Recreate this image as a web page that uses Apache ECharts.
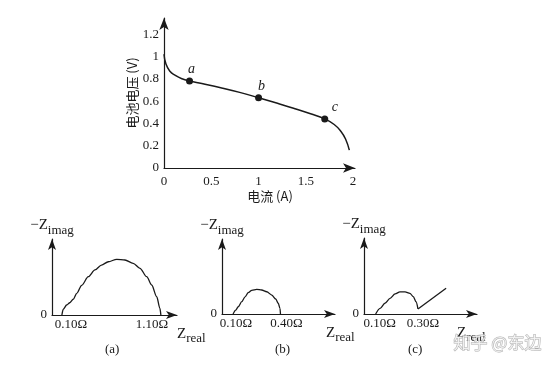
<!DOCTYPE html>
<html><head><meta charset="utf-8">
<script src="https://cdn.jsdelivr.net/npm/echarts@6/dist/echarts.min.js"></script>
<style>html,body{margin:0;padding:0;background:#fff}#c{width:554px;height:366px}</style>
</head><body><div id="c"></div>
<script>
// ---- Data: polarization curve ----
const currentA = [0, 0.02, 0.06, 0.12, 0.19, 0.27, 0.4, 0.6, 0.8, 1.0, 1.2, 1.37, 1.55, 1.7, 1.80, 1.87, 1.92, 1.96];
const voltageV = [1.02, 0.935, 0.87, 0.83, 0.80, 0.78, 0.757, 0.72, 0.678, 0.63, 0.58, 0.536, 0.486, 0.44, 0.39, 0.33, 0.26, 0.16];
const markX = [0.27, 1.0, 1.7];
const markY = [0.78, 0.63, 0.44];
const markNames = ['a', 'b', 'c'];
const topXTicks = [0, 0.5, 1, 1.5, 2];
const topYTicks = [0, 0.2, 0.4, 0.6, 0.8, 1, 1.2];

// ---- Data: impedance spectra (a), (b), (c) ----
const aReal = [0.10, 0.114, 0.148, 0.18, 0.215, 0.25, 0.30, 0.367, 0.434, 0.50, 0.569, 0.654, 0.737, 0.82, 0.889, 0.957, 1.007, 1.058, 1.09, 1.10];
const aImag = [0, 0.058, 0.101, 0.124, 0.159, 0.219, 0.30, 0.387, 0.455, 0.505, 0.538, 0.563, 0.556, 0.522, 0.472, 0.387, 0.303, 0.185, 0.068, 0];
const bReal = [0.10, 0.117, 0.133, 0.155, 0.176, 0.196, 0.218, 0.25, 0.281, 0.313, 0.345, 0.37, 0.386, 0.397, 0.40];
const bImag = [0, 0.025, 0.046, 0.078, 0.109, 0.135, 0.150, 0.156, 0.152, 0.141, 0.120, 0.095, 0.068, 0.036, 0];
const cArcReal = [0.10, 0.121, 0.144, 0.168, 0.192, 0.215, 0.239, 0.262, 0.278, 0.291, 0.30];
const cArcImag = [0, 0.027, 0.051, 0.074, 0.095, 0.105, 0.105, 0.098, 0.082, 0.058, 0.024];
const cTailReal = [0.30, 0.433];
const cTailImag = [0.024, 0.122];
const aTicks = [0.10, 1.10];
const bTicks = [0.10, 0.40];
const cTicks = [0.10, 0.30];
const captions = ['(a)', '(b)', '(c)'];

// ---- Styles ----
const SERIF = '"Liberation Serif","Times New Roman",serif';
const CJK = '"Noto Sans CJK SC","Noto Sans",sans-serif';
const INK = '#1a1a1a';
const zip = (xs, ys) => xs.map((x, i) => [x, ys[i]]);

const axisLine = (size) => ({
  show: true, onZero: false,
  symbol: ['none', 'arrow'], symbolSize: size, symbolOffset: [0, 0],
  lineStyle: { color: INK, width: 1.2 }
});

const zName = (main, sub, subPad) => ({
  name: '{m|' + main + '}{s|' + sub + '}',
  rich: {
    m: { fontFamily: SERIF, fontSize: 15, color: INK },
    s: { fontFamily: SERIF, fontSize: 13, color: INK, padding: [subPad, 0, 0, 0] }
  }
});

// label shifts (px) so tick text sits like in the print
const shifts = [[9, -9], [3, 6], [4, 5]];
function ohmLabel(ticks, sh) {
  return {
    show: true, customValues: ticks, margin: 3,
    formatter: (v) => {
      const i = ticks.findIndex(t => Math.abs(t - v) < 1e-9);
      return '{' + (sh[i] >= 0 ? 'l' : 'r') + (i) + '|' + v.toFixed(2) + 'Ω}';
    },
    rich: Object.fromEntries(ticks.map((t, i) => [
      (sh[i] >= 0 ? 'l' : 'r') + i,
      { fontFamily: SERIF, fontSize: 13, color: INK,
        padding: sh[i] >= 0 ? [0, 0, 0, 2 * sh[i]] : [0, -2 * sh[i], 0, 0] }
    ]))
  };
}

const grids = [
  { left: 164, top: 18, width: 191, height: 150 },
  { left: 52, top: 239, width: 125, height: 76 },
  { left: 222, top: 239, width: 113, height: 75 },
  { left: 364, top: 238, width: 113, height: 76 }
];

const xN = zName('Z', 'real', 9);
const yN = zName('−Z', 'imag', 11);

const bottomX = (idx, min, max, ticks, gap) => ({
  type: 'value', gridIndex: idx, min: min, max: max,
  axisLine: axisLine([6, 11]), axisTick: { show: false }, splitLine: { show: false },
  axisLabel: ohmLabel(ticks, shifts[idx - 1]),
  name: xN.name, nameLocation: 'end', nameGap: gap,
  nameTextStyle: { rich: xN.rich, verticalAlign: 'top', padding: [8, 0, 0, 0] }
});
const bottomY = (idx, max) => ({
  type: 'value', gridIndex: idx, min: 0, max: max,
  axisLine: axisLine([6, 11]), axisTick: { show: false }, splitLine: { show: false },
  axisLabel: { show: true, customValues: [0], margin: 5, fontFamily: SERIF, fontSize: 13, color: INK },
  name: yN.name, nameLocation: 'end', nameGap: 2,
  nameTextStyle: { rich: yN.rich }
});

const curve = (xi, xs, ys, sm) => ({
  type: 'line', xAxisIndex: xi, yAxisIndex: xi, data: zip(xs, ys),
  smooth: sm, smoothMonotone: 'x', showSymbol: false, lineStyle: { color: INK, width: 1.3 }
});

const chart = echarts.init(document.getElementById('c'));
chart.setOption({
  animation: false,
  backgroundColor: '#ffffff',
  grid: grids,
  xAxis: [
    {
      type: 'value', gridIndex: 0, min: 0, max: 2.02,
      axisLine: axisLine([7, 12]), axisTick: { show: false }, splitLine: { show: false },
      axisLabel: { customValues: topXTicks, margin: 7, fontFamily: SERIF, fontSize: 13, color: INK },
      name: '电流 (A)', nameLocation: 'middle', nameGap: 22,
      nameTextStyle: { fontFamily: CJK, fontSize: 13, color: INK, padding: [0, 0, 0, 21] }
    },
    bottomX(1, 0, 1.263, aTicks, 0),
    bottomX(2, 0.03, 0.745, bTicks, -9),
    bottomX(3, 0.045, 0.579, cTicks, -20)
  ],
  yAxis: [
    {
      type: 'value', gridIndex: 0, min: 0, max: 1.345,
      axisLine: axisLine([7, 12]), axisTick: { show: false }, splitLine: { show: false },
      axisLabel: { customValues: topYTicks, margin: 5, fontFamily: SERIF, fontSize: 13, color: INK },
      name: '电池电压 (V)', nameLocation: 'middle', nameGap: 25,
      nameTextStyle: { fontFamily: CJK, fontSize: 13, color: INK }
    },
    bottomY(1, 0.768),
    bottomY(2, 0.475),
    bottomY(3, 0.36)
  ],
  series: [
    {
      type: 'line', xAxisIndex: 0, yAxisIndex: 0, data: zip(currentA, voltageV),
      smooth: 0.5, showSymbol: false, lineStyle: { color: INK, width: 1.5 }
    },
    {
      type: 'scatter', xAxisIndex: 0, yAxisIndex: 0, symbolSize: 7,
      itemStyle: { color: INK, opacity: 1 },
      data: markX.map((x, i) => ({
        value: [x, markY[i]], name: markNames[i],
        label: { offset: [[2, 0], [3, 0], [10, 0]][i] }
      })),
      label: {
        show: true, position: 'top', distance: 1, formatter: '{b}',
        fontFamily: SERIF, fontStyle: 'italic', fontSize: 14, color: INK
      }
    },
    curve(1, aReal, aImag, 0.3),
    curve(2, bReal, bImag, 0.3),
    curve(3, cArcReal, cArcImag, 0.3),
    curve(3, cTailReal, cTailImag, false)
  ],
  graphic: [
    { type: 'text', left: 105, top: 343, style: { text: captions[0], font: '13px ' + SERIF, fill: INK } },
    { type: 'text', left: 275, top: 343, style: { text: captions[1], font: '13px ' + SERIF, fill: INK } },
    { type: 'text', left: 408, top: 343, style: { text: captions[2], font: '13px ' + SERIF, fill: INK } },
    { type: 'text', left: 453, top: 334, z: 100,
      style: { text: '知乎 @东边', font: '17px ' + CJK, fill: 'rgba(255,255,255,0.75)', stroke: 'rgba(140,140,140,0.7)', lineWidth: 1 } }
  ]
});
</script>
</body></html>
